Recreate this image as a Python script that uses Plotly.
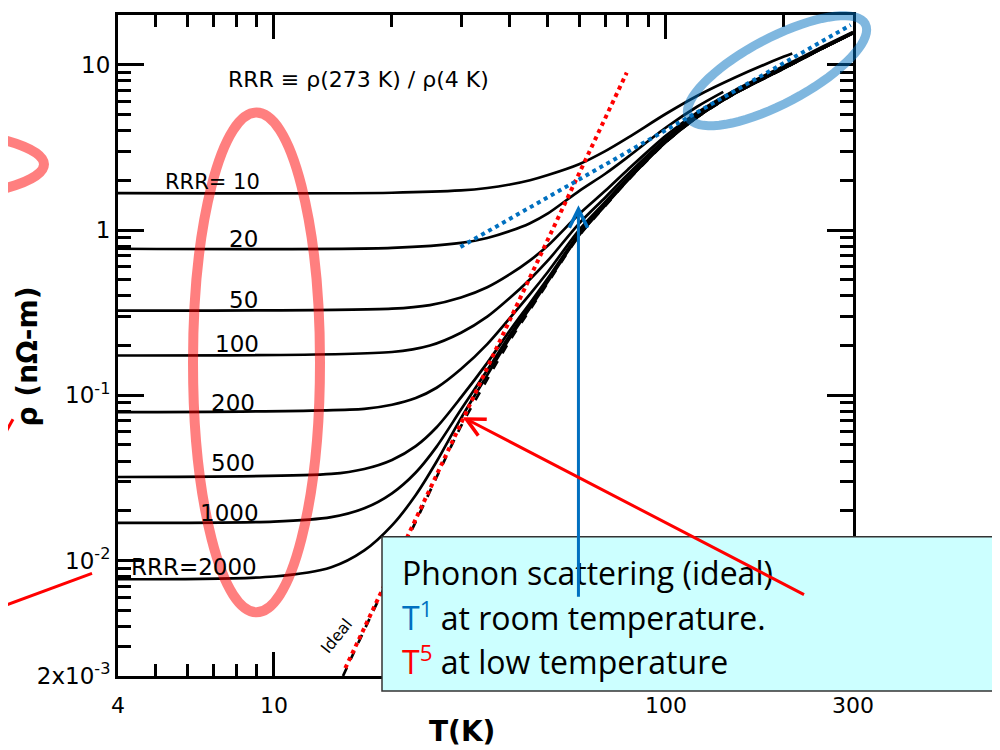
import numpy as np
import plotly.graph_objects as go

# ---------------- data ----------------
T_ideal = [15, 17, 20, 23, 26, 30, 35, 40, 45, 50, 60, 70, 80, 100, 120, 150, 200, 250, 300]
rho_ideal = [0.002, 0.0038, 0.0086, 0.0172, 0.032, 0.065, 0.125, 0.215, 0.33, 0.48, 0.92, 1.40,
             2.0, 3.4, 4.8, 6.7, 9.5, 12.5, 15.5]

T_rrr10 = [4, 20, 30, 35, 40, 45, 50, 60, 70, 80, 100, 120, 150, 200, 210]
rho_rrr10 = [1.67, 1.68, 1.735, 1.795, 1.885, 2.0, 2.15, 2.5, 3.0, 3.62, 5.05, 6.47, 8.37, 11.2, 11.7]

T_rrr20 = [4, 20, 30, 35, 40, 45, 50, 60, 70, 80, 100, 120, 140]
rho_rrr20 = [0.77, 0.779, 0.835, 0.895, 0.985, 1.10, 1.26, 1.72, 2.19, 2.77, 4.17, 5.57, 6.85]

T_rrr50 = [4, 20, 25, 30, 35, 40, 45, 50, 60, 70, 80, 100, 120, 150, 200, 250, 300]
rho_rrr50 = [0.325, 0.334, 0.351, 0.39, 0.45, 0.54, 0.655, 0.805, 1.245, 1.725, 2.325, 3.725,
             5.125, 7.025, 9.825, 12.8, 15.8]

T_rrr100 = [4, 20, 25, 30, 35, 40, 45, 50, 60, 70, 80, 100, 120, 150, 200, 250, 300]
rho_rrr100 = [0.174, 0.1826, 0.200, 0.239, 0.299, 0.389, 0.504, 0.654, 1.094, 1.574, 2.174, 3.574,
              4.974, 6.874, 9.674, 12.67, 15.67]

T_rrr200 = [4, 17, 20, 23, 26, 30, 35, 40, 45, 50, 60, 70, 80, 100, 120, 150, 200, 250, 300]
rho_rrr200 = [0.079, 0.0828, 0.0876, 0.0962, 0.111, 0.144, 0.204, 0.294, 0.409, 0.559, 0.999, 1.479,
              2.079, 3.479, 4.879, 6.779, 9.579, 12.58, 15.58]

T_rrr500 = [4, 14, 17, 20, 23, 26, 30, 35, 40, 45, 50, 60, 70, 80, 100, 120, 150, 200, 250, 300]
rho_rrr500 = [0.032, 0.0334, 0.0358, 0.0406, 0.0492, 0.064, 0.097, 0.157, 0.247, 0.362, 0.512, 0.952,
              1.432, 2.032, 3.432, 4.832, 6.732, 9.532, 12.53, 15.53]

T_rrr1000 = [4, 10, 14, 17, 20, 23, 26, 30, 35, 40, 45, 50, 60, 70, 80, 100, 120, 150, 200, 250, 300]
rho_rrr1000 = [0.0169, 0.0172, 0.0183, 0.0207, 0.0255, 0.0341, 0.0489, 0.0819, 0.142, 0.232, 0.347,
               0.497, 0.937, 1.417, 2.017, 3.417, 4.817, 6.717, 9.517, 12.52, 15.52]

T_rrr2000 = [4, 10, 14, 17, 20, 23, 26, 30, 35, 40, 45, 50, 60, 70, 80, 100, 120, 150, 200, 250, 300]
rho_rrr2000 = [0.0077, 0.0080, 0.0091, 0.0115, 0.0163, 0.0249, 0.0397, 0.0727, 0.1327, 0.2227, 0.3377,
               0.4877, 0.928, 1.408, 2.008, 3.408, 4.808, 6.708, 9.508, 12.51, 15.51]

# guide lines drawn on the slide
T5_T = [15.2, 79.4]
T5_rho = [0.00223, 8.95]
T1_T = [29.9, 296]
T1_rho = [0.79, 17.4]

# arrows (head / tail in data units)
blue_arrow_T = [59.8, 59.8]
blue_arrow_rho = [1.41, 0.0059]
red_arrow_T = [30.3, 227]
red_arrow_rho = [0.0737, 0.00615]

# labels
rrr_labels = ["RRR= 10", "20", "50", "100", "200", "500", "1000", "RRR=2000"]
x_tickvals = [4, 10, 100, 300]
x_ticktext = ["4", "10", "100", "300"]
y_tickvals = [0.002, 0.01, 0.1, 1, 10]
y_ticktext = ["2x10<sup>-3</sup>", "10<sup>-2</sup>", "10<sup>-1</sup>", "1", "10"]

# ---------------- figure ----------------
OFF = 8  # page body margin
L, R, TOP, BOT = 118, 853, 12, 676  # plot area in page pixels
W, H = R - L, BOT - TOP
FIG_W, FIG_H = 1000 - OFF, 750 - OFF


def P(px, py):
    return (px - L) / W, (BOT - py) / H


fig = go.Figure()

curves = [(T_rrr10, rho_rrr10), (T_rrr20, rho_rrr20), (T_rrr50, rho_rrr50), (T_rrr100, rho_rrr100),
          (T_rrr200, rho_rrr200), (T_rrr500, rho_rrr500), (T_rrr1000, rho_rrr1000),
          (T_rrr2000, rho_rrr2000)]
for t, r in curves:
    fig.add_trace(go.Scatter(x=t, y=r, mode="lines",
                             line=dict(color="black", width=2.7, shape="spline", smoothing=0.8),
                             hoverinfo="skip"))

fig.add_trace(go.Scatter(x=T_ideal, y=rho_ideal, mode="lines",
                         line=dict(color="black", width=2.7, dash="dash", shape="spline", smoothing=0.8),
                         hoverinfo="skip"))

fig.add_trace(go.Scatter(x=T5_T, y=T5_rho, mode="lines",
                         line=dict(color="#FF0000", width=4, dash="dot"), hoverinfo="skip"))
fig.add_trace(go.Scatter(x=T1_T, y=T1_rho, mode="lines",
                         line=dict(color="#0070C0", width=4, dash="dot"), hoverinfo="skip"))

minor_x = [5, 6, 7, 8, 9, 20, 30, 40, 50, 60, 70, 80, 90, 200]
minor_y = [m * 10.0 ** e for e in (-3, -2, -1, 0) for m in range(2, 10) if m * 10.0 ** e > 0.0021]

font_fig = "DejaVu Sans"
fig.update_xaxes(type="log", range=[np.log10(4), np.log10(300)], showline=True, linecolor="black",
                 linewidth=3, mirror="ticks", ticks="inside", ticklen=24, tickwidth=2.5, tickcolor="black",
                 tickvals=x_tickvals, ticktext=x_ticktext, showgrid=False, zeroline=False,
                 tickfont=dict(family=font_fig, size=22, color="black"), ticklabelstandoff=8,
                 minor=dict(ticks="inside", ticklen=12, tickwidth=2.5, tickcolor="black",
                            tickvals=minor_x, showgrid=False))
fig.update_yaxes(type="log", range=[np.log10(0.002), np.log10(20)], showline=True, linecolor="black",
                 linewidth=3, mirror="ticks", ticks="inside", ticklen=26, tickwidth=2.5, tickcolor="black",
                 tickvals=y_tickvals, ticktext=y_ticktext, showgrid=False, zeroline=False,
                 tickfont=dict(family=font_fig, size=23, color="black"),
                 minor=dict(ticks="inside", ticklen=13, tickwidth=2.5, tickcolor="black",
                            tickvals=minor_y, showgrid=False))

shapes = []
# text box
x0, y0 = P(382, 691)
x1, y1 = P(1010, 536)
shapes.append(dict(type="rect", xref="paper", yref="paper", x0=x0, y0=y0, x1=x1, y1=y1,
                   fillcolor="#CCFFFF", line=dict(color="#333333", width=1.5), layer="above"))
# big red ellipse
x0, y0 = P(193, 612)
x1, y1 = P(320, 110)
shapes.append(dict(type="circle", xref="paper", yref="paper", x0=x0, y0=y0, x1=x1, y1=y1,
                   line=dict(color="rgba(255,0,0,0.5)", width=10), layer="above"))
# partial red ellipse at left edge
x0, y0 = P(-340, 202)
x1, y1 = P(44, 122)
shapes.append(dict(type="circle", xref="paper", yref="paper", x0=x0, y0=y0, x1=x1, y1=y1,
                   line=dict(color="rgba(255,0,0,0.5)", width=10), layer="above"))
# rotated blue ellipse (top right)
cx, cy, ea, eb, th = 777, 68, 100, 33, np.radians(28)
tt = np.linspace(0, 2 * np.pi, 73)
pxs = cx + ea * np.cos(tt) * np.cos(th) + eb * np.sin(tt) * np.sin(th)
pys = cy - ea * np.cos(tt) * np.sin(th) + eb * np.sin(tt) * np.cos(th)
pts = [P(a, b) for a, b in zip(pxs, pys)]
path = "M " + " L ".join(f"{a:.5f},{b:.5f}" for a, b in pts) + " Z"
shapes.append(dict(type="path", xref="paper", yref="paper", path=path,
                   line=dict(color="rgba(0,112,192,0.5)", width=9), layer="above"))
# red strokes at left edge
x0, y0 = P(0, 607)
x1, y1 = P(92, 573)
shapes.append(dict(type="line", xref="paper", yref="paper", x0=x0, y0=y0, x1=x1, y1=y1,
                   line=dict(color="#FF0000", width=3), layer="above"))
x0, y0 = P(3, 436)
x1, y1 = P(13, 418)
shapes.append(dict(type="line", xref="paper", yref="paper", x0=x0, y0=y0, x1=x1, y1=y1,
                   line=dict(color="#FF0000", width=3), layer="above"))

fig.update_layout(shapes=shapes)

ann = []


def txt(px, py, s, size, angle=0, bold=False, family=font_fig, xanchor="center", color="black"):
    xp, yp = P(px, py)
    if bold:
        s = "<b>" + s + "</b>"
    ann.append(dict(x=xp, y=yp, xref="paper", yref="paper", text=s, showarrow=False,
                    font=dict(family=family, size=size, color=color), textangle=angle,
                    xanchor=xanchor, yanchor="middle"))


txt(358, 77, "RRR ≡ ρ(273 K) / ρ(4 K)", 22)
label_pos = [(212, 180), (243, 237), (243, 298), (237, 342), (233, 402), (233, 462), (229, 512), (194, 567)]
label_size = [21, 23, 23, 23, 23, 23, 23, 23]
for (px, py), s, fs in zip(label_pos, rrr_labels, label_size):
    txt(px, py, s, fs)
txt(336, 636, "Ideal", 16, angle=-51)
txt(462, 732, "T(K)", 28, bold=True)
txt(27, 355, "ρ (nΩ-m)", 28, angle=-90, bold=True)

box_font = "Open Sans"
txt(400, 572, "Phonon scattering (ideal)", 32, family=box_font, xanchor="left")
txt(400, 616, "<span style='color:#0070C0'>T<sup>1</sup></span> at room temperature.", 32,
    family=box_font, xanchor="left")
txt(400, 660, "<span style='color:#FF0000'>T<sup>5</sup></span> at low temperature", 32,
    family=box_font, xanchor="left")

# arrows
ann.append(dict(x=np.log10(blue_arrow_T[0]), y=np.log10(blue_arrow_rho[0]), xref="x", yref="y",
                ax=np.log10(blue_arrow_T[1]), ay=np.log10(blue_arrow_rho[1]), axref="x", ayref="y",
                text="", showarrow=True, arrowhead=5, arrowsize=1.2, arrowwidth=3, arrowcolor="#0070C0"))
ann.append(dict(x=np.log10(red_arrow_T[0]), y=np.log10(red_arrow_rho[0]), xref="x", yref="y",
                ax=np.log10(red_arrow_T[1]), ay=np.log10(red_arrow_rho[1]), axref="x", ayref="y",
                text="", showarrow=True, arrowhead=5, arrowsize=1.2, arrowwidth=3, arrowcolor="#FF0000"))

fig.update_layout(annotations=ann, width=FIG_W, height=FIG_H,
                  margin=dict(l=L - OFF, r=FIG_W - (R - OFF), t=TOP - OFF, b=FIG_H - (BOT - OFF)),
                  plot_bgcolor="white", paper_bgcolor="white", showlegend=False, hovermode=False)

fig.write_html("out.html")
